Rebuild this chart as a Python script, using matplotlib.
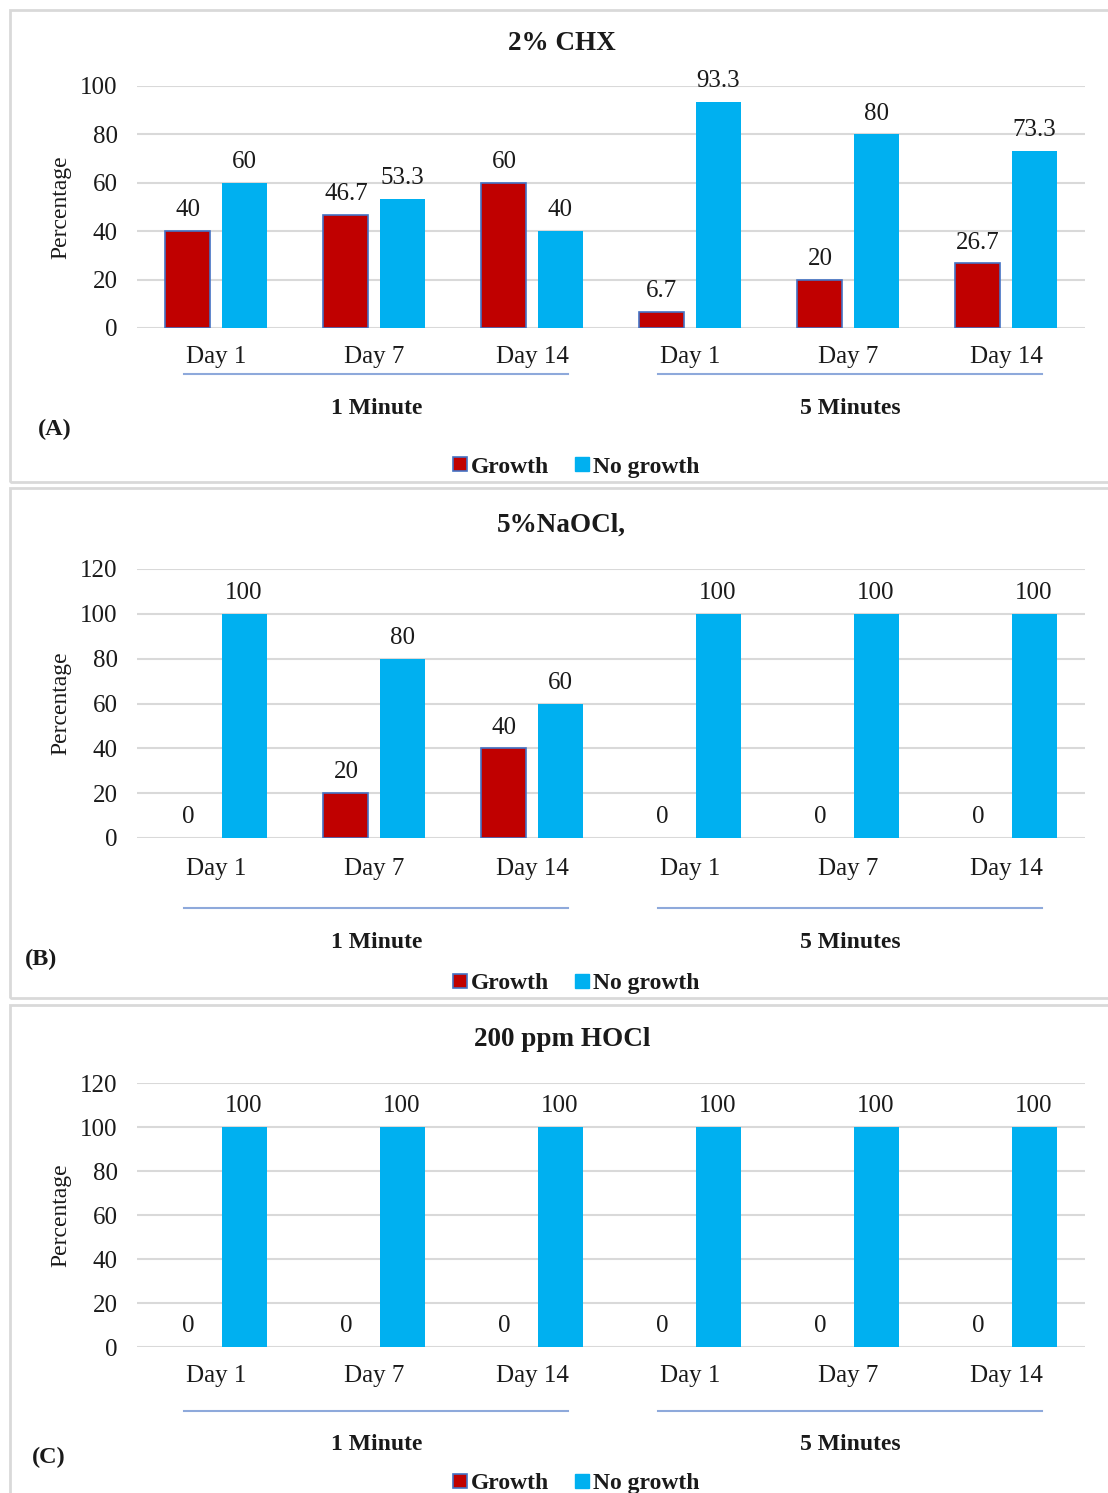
import numpy as np
import matplotlib
matplotlib.use("Agg")
from matplotlib import pyplot as plt
from matplotlib import transforms
from matplotlib.patches import Rectangle
from matplotlib.lines import Line2D

plt.rcParams['font.family'] = ['Liberation Serif', 'DejaVu Serif']

days = ["Day 1", "Day 7", "Day 14", "Day 1", "Day 7", "Day 14"]
groups = ["1 Minute", "5 Minutes"]

chx_growth = [40, 46.7, 60, 6.7, 20, 26.7]
chx_nogrowth = [60, 53.3, 40, 93.3, 80, 73.3]
naocl_growth = [0, 20, 40, 0, 0, 0]
naocl_nogrowth = [100, 80, 60, 100, 100, 100]
hocl_growth = [0, 0, 0, 0, 0, 0]
hocl_nogrowth = [100, 100, 100, 100, 100, 100]

RED = "#C00000"
BLUE = "#00B0F0"
EDGE = "#4472C4"
GRID = "#D9D9D9"
TXT = "#1a1a1a"

W, H = 1108, 1493
fig = plt.figure(figsize=(W / 100, H / 100), dpi=100)


def fy(py):
    return 1 - py / H


def fx(px):
    return px / W


def fmt(v):
    return "%g" % v


panels = [
    dict(title="2% CHX", g=chx_growth, n=chx_nogrowth, ymax=100,
         top=86, bot=328, box=(10, 482), letter=("(A)", 55, 429),
         tick_y=356, line_y=374, grp_y=408, leg_y=467, title_y=43),
    dict(title="5%NaOCl,", g=naocl_growth, n=naocl_nogrowth, ymax=120,
         top=569, bot=838, box=(488, 998), letter=("(B)", 41, 959),
         tick_y=868, line_y=908, grp_y=942, leg_y=983, title_y=525),
    dict(title="200 ppm HOCl", g=hocl_growth, n=hocl_nogrowth, ymax=120,
         top=1083, bot=1347, box=(1005, 1520), letter=("(C)", 49, 1457),
         tick_y=1375, line_y=1411, grp_y=1444, leg_y=1483, title_y=1040),
]

x = np.arange(len(days))
bw = 0.285
gap = 0.07

for p in panels:
    # light grey frame around each panel
    b0, b1 = p["box"]
    fig.patches.append(Rectangle((fx(10), fy(b1)), fx(1120) - fx(10), fy(b0) - fy(b1),
                                 transform=fig.transFigure, fill=False,
                                 edgecolor=GRID, linewidth=2, zorder=0))

    ax = fig.add_axes([fx(137), fy(p["bot"]), fx(948), (p["bot"] - p["top"]) / H])
    ax.set_xlim(-0.5, len(days) - 0.5)
    ax.set_ylim(0, p["ymax"])
    ax.set_yticks(np.arange(0, p["ymax"] + 1, 20))
    ax.yaxis.grid(True, color=GRID, linewidth=1.5)
    ax.set_axisbelow(True)
    for s in ax.spines.values():
        s.set_visible(False)
    ax.tick_params(axis='both', length=0, labelsize=18, colors=TXT)
    ax.tick_params(axis='y', pad=14)
    ax.set_xticks(x)
    ax.set_xticklabels(days)
    ax.tick_params(axis='x', pad=(p["tick_y"] - p["bot"]) * 0.72 - 7)
    ax.set_ylabel("Percentage", fontsize=17, labelpad=6, color=TXT)

    xg = x - gap / 2 - bw / 2
    xn = x + gap / 2 + bw / 2
    edges = [EDGE if v > 0 else "none" for v in p["g"]]
    ax.bar(xg, p["g"], width=bw, color=RED, edgecolor=edges, linewidth=1.2)
    ax.bar(xn, p["n"], width=bw, color=BLUE, linewidth=0)
    for xi, v in zip(xg, p["g"]):
        ax.annotate(fmt(v), (xi, v), xytext=(0, 7), textcoords="offset points",
                    ha="center", va="bottom", fontsize=18, color=TXT)
    for xi, v in zip(xn, p["n"]):
        ax.annotate(fmt(v), (xi, v), xytext=(0, 7), textcoords="offset points",
                    ha="center", va="bottom", fontsize=18, color=TXT)

    # group brackets + labels under the day ticks
    tr = transforms.blended_transform_factory(ax.transData, fig.transFigure)
    for (x0, x1), name in zip([(-0.2, 2.23), (2.8, 5.23)], groups):
        ax.add_line(Line2D([x0, x1], [fy(p["line_y"])] * 2, transform=tr,
                           color="#8EA9DB", linewidth=1.5, clip_on=False))
        ax.text((x0 + x1) / 2, fy(p["grp_y"]), name, transform=tr, ha="center",
                va="center", fontsize=17, fontweight="bold", color=TXT)

    fig.text(0.507, fy(p["title_y"]), p["title"], ha="center", va="center",
             fontsize=19.5, fontweight="bold", color=TXT)
    lab, lx, ly = p["letter"]
    fig.text(fx(lx), fy(ly), lab, ha="center", va="center", fontsize=17.5,
             fontweight="bold", color=TXT)

    handles = [
        Line2D([], [], marker="s", linestyle="none", markersize=10,
               markerfacecolor=RED, markeredgecolor=EDGE, markeredgewidth=1.2),
        Line2D([], [], marker="s", linestyle="none", markersize=10,
               markerfacecolor=BLUE, markeredgecolor=BLUE),
    ]
    fig.legend(handles, ["Growth", "No growth"], loc="center",
               bbox_to_anchor=(fx(575), fy(p["leg_y"])), ncol=2, frameon=False,
               prop=dict(size=17, weight="bold"), handletextpad=0.05,
               columnspacing=1.0, handlelength=0.8, labelcolor=TXT)

fig.savefig("out.png", dpi=100)
